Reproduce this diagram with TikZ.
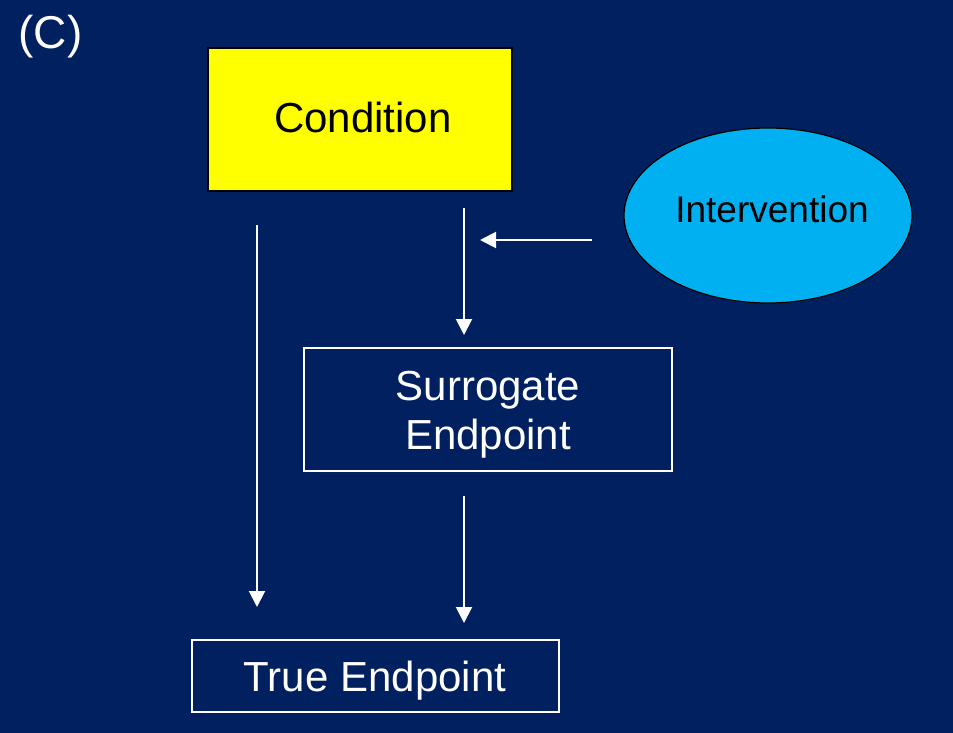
\documentclass[tikz,border=0pt]{standalone}
\usepackage{fontspec}
\setmainfont{Liberation Sans}
\usetikzlibrary{arrows.meta,shapes.geometric}
\definecolor{navy}{RGB}{0,32,96}
\definecolor{sky}{RGB}{0,176,240}
\definecolor{yel}{RGB}{255,255,0}
\begin{document}
\begin{tikzpicture}[x=1pt,y=-1pt,
  lbl/.style={font=\fontsize{42}{50}\selectfont, text=white},
  whitebox/.style={draw=white, line width=1.5pt, inner sep=0pt},
  conn/.style={draw=white, line width=2pt, -{Triangle[width=16pt,length=16pt]}}]
\fill[navy] (0,0) rectangle (953,733);
\useasboundingbox (0,0) rectangle (953,733);
\node[font=\fontsize{46}{54}\selectfont, text=white, anchor=west] (title) at (15,37) {(C)};
\node[draw=black, line width=1.2pt, fill=yel, minimum width=304pt, minimum height=143pt] (cond) at (360,119.5) {};
\node[font=\fontsize{42}{50}\selectfont, text=black] (condt) at (363,117) {Condition};
\node[ellipse, draw=black, line width=1.2pt, fill=sky, minimum width=288pt, minimum height=175pt, inner sep=0pt] (interv) at (768,215.5) {};
\node[font=\fontsize{37}{44}\selectfont, text=black] (intervt) at (772,209) {Intervention};
\node[whitebox, minimum width=368pt, minimum height=123pt] (surr) at (488,409.5) {};
\node[lbl, align=center, font=\fontsize{42}{49}\selectfont] (surrt) at (488,415) {Surrogate\\Endpoint};
\node[whitebox, minimum width=367pt, minimum height=72pt] (true) at (375.5,676) {};
\node[lbl] (truet) at (375,681) {True Endpoint};
\coordinate (a1s) at (257,225);
\coordinate (a1e) at (257,607);
\coordinate (a2s) at (464,208);
\coordinate (a2e) at (464,335);
\coordinate (a3s) at (592,240);
\coordinate (a3e) at (480,240);
\coordinate (a4s) at (464,496);
\coordinate (a4e) at (464,623);
\draw[conn] (a1s) -- (a1e);
\draw[conn] (a2s) -- (a2e);
\draw[conn] (a3s) -- (a3e);
\draw[conn] (a4s) -- (a4e);
\end{tikzpicture}
\end{document}
